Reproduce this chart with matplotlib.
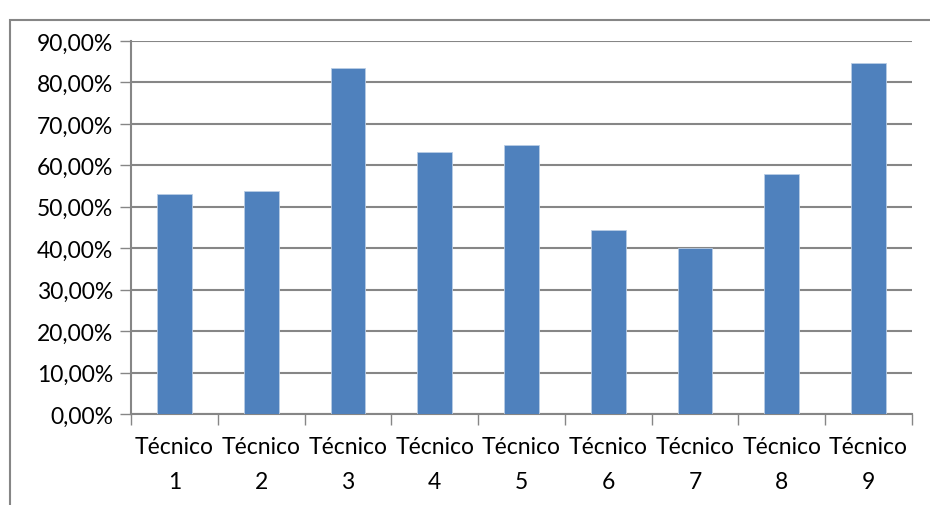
import matplotlib
matplotlib.use("Agg")
import matplotlib.pyplot as plt
from matplotlib.ticker import FuncFormatter
from matplotlib.patches import Rectangle

# data
categories = ["Técnico\n1", "Técnico\n2", "Técnico\n3", "Técnico\n4", "Técnico\n5",
              "Técnico\n6", "Técnico\n7", "Técnico\n8", "Técnico\n9"]
values = [53.0, 53.8, 83.5, 63.1, 64.9, 44.4, 40.0, 57.9, 84.8]
yticks = [0, 10, 20, 30, 40, 50, 60, 70, 80, 90]

plt.rcParams['font.family'] = ['Lato', 'DejaVu Sans']
grey = '#868686'
blue = '#4F81BD'

fig = plt.figure(figsize=(9.3, 5.06), dpi=100)
ax = fig.add_axes([131/930, 1 - 415/506, (912-131)/930, (415-42)/506])

x = list(range(len(categories)))
ax.bar(x, values, width=0.4, color=blue, edgecolor='#B9CDE5', linewidth=0.6, zorder=3)

ax.set_ylim(0, 90)
ax.set_xlim(-0.5, len(categories) - 0.5)
ax.set_yticks(yticks)
ax.yaxis.set_major_formatter(FuncFormatter(lambda v, p: f"{v:.2f}%".replace('.', ',')))
ax.yaxis.grid(True, color=grey, linewidth=1.5, zorder=0)
ax.tick_params(axis='y', length=8, width=1, color=grey, labelsize=16.5, pad=5)

# category ticks sit between the bars
ax.set_xticks(x)
ax.set_xticklabels(categories, fontsize=16.5, linespacing=1.8)
ax.tick_params(axis='x', length=0, pad=16)
ax.set_xticks([i - 0.5 for i in range(len(categories) + 1)], minor=True)
ax.tick_params(axis='x', which='minor', length=8, width=1, color=grey)

for s in ['top', 'right']:
    ax.spines[s].set_visible(False)
for s in ['left', 'bottom']:
    ax.spines[s].set_color(grey)
    ax.spines[s].set_linewidth(1.5)

# chart area border
fig.patches.append(Rectangle((10/930, -0.05), 1.2, 1 - 21/506 + 0.05, transform=fig.transFigure,
                             fill=False, edgecolor=grey, linewidth=1.5))

fig.savefig("out.png", dpi=100)
